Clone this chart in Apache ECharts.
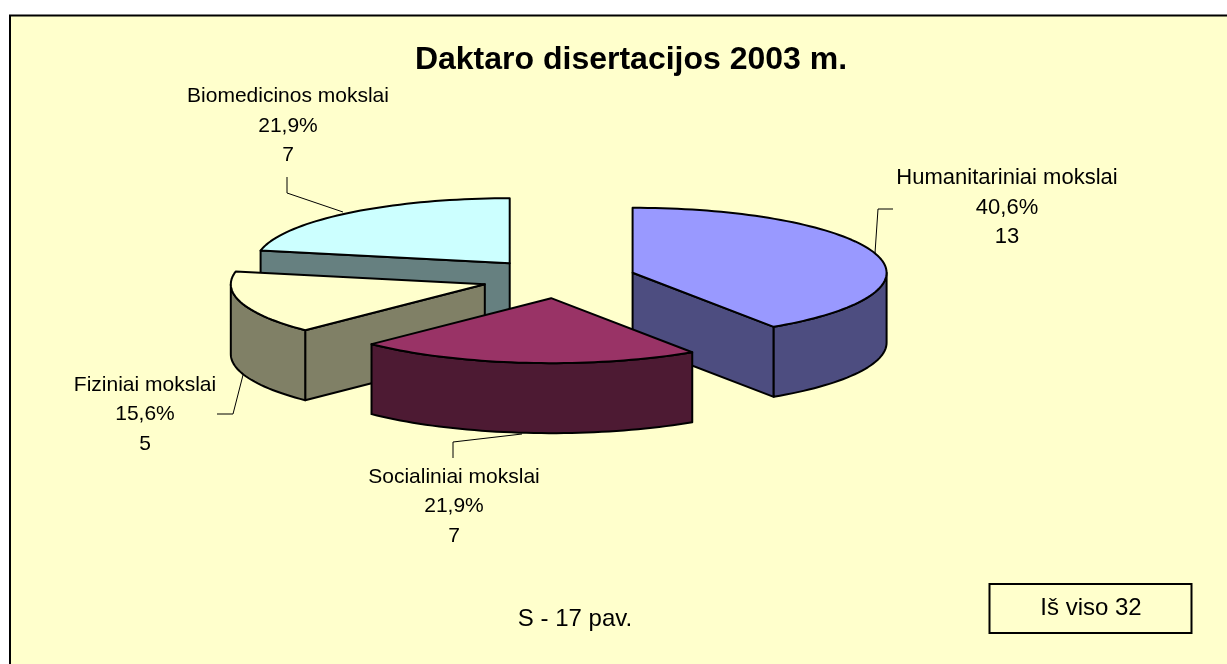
<!DOCTYPE html>
<html><head><meta charset="utf-8">
<style>html,body{margin:0;padding:0;background:#fff}#c{width:1227px;height:664px}</style>
<script src="https://cdn.jsdelivr.net/npm/echarts@6/dist/echarts.min.js"></script>
</head><body><div id="c"></div>
<script>
var categories = ['Humanitariniai mokslai','Socialiniai mokslai','Fiziniai mokslai','Biomedicinos mokslai'];
var counts = [13,7,5,7];
var percentLabels = ['40,6%','21,9%','15,6%','21,9%'];
var topColors = ['#9999FF','#993366','#FFFFCC','#CCFFFF'];
var sideColors = ['#4D4D80','#4D1A33','#808066','#668080'];
var titleText = 'Daktaro disertacijos 2003 m.';
var noteText = 'S - 17 pav.';
var totalText = 'Iš viso 32';

var FONT = '"Liberation Sans", Arial, sans-serif';
var total = counts.reduce(function(a,b){return a+b;},0);
var cx = 558.7, cy = 278.5, rx = 254, ry = 65, depth = 70, explode = 0.304;
var starts = [], acc = 0;
counts.forEach(function(v){ starts.push(acc/total*Math.PI*2); acc += v; });
// paint back-to-front
var order = [3,2,0,1];
var seriesData = order.map(function(i){ return {name:categories[i], value:[i,counts[i]]}; });

function arcPts(c,a0,a1,dy){
  var pts=[], n=Math.max(2,Math.ceil((a1-a0)/0.03));
  for(var k=0;k<=n;k++){
    var t=a0+(a1-a0)*k/n;
    pts.push([c[0]+rx*Math.sin(t), c[1]-ry*Math.cos(t)+dy]);
  }
  return pts;
}
function poly(points,fill){
  return {type:'polygon',shape:{points:points},
    style:{fill:fill,stroke:'#000',lineWidth:2,lineJoin:'round'}};
}
function cutFace(c,a,color){
  var e=[c[0]+rx*Math.sin(a), c[1]-ry*Math.cos(a)];
  return poly([c,e,[e[0],e[1]+depth],[c[0],c[1]+depth]],color);
}
function renderSlice(params,api){
  var i=api.value(0), v=api.value(1);
  var a0=starts[i], a1=a0+v/total*Math.PI*2, mid=(a0+a1)/2;
  var c=[cx+rx*explode*Math.sin(mid), cy-ry*explode*Math.cos(mid)];
  var kids=[];
  // cut faces whose normal points toward the viewer
  if(Math.sin(a0)<-1e-6) kids.push(cutFace(c,a0,sideColors[i]));
  if(Math.sin(a1)>1e-6) kids.push(cutFace(c,a1,sideColors[i]));
  // outer rim, front half only
  var r0=Math.max(a0,Math.PI/2), r1=Math.min(a1,Math.PI*1.5);
  if(r1>r0){
    var top=arcPts(c,r0,r1,0), bot=arcPts(c,r0,r1,depth).reverse();
    kids.push(poly(top.concat(bot),sideColors[i]));
  }
  // top face
  kids.push(poly([c].concat(arcPts(c,a0,a1,0)),topColors[i]));
  return {type:'group',children:kids};
}

var leaders = [
  [[875,253],[878,209],[893,209]],
  [[522,434],[453,442],[453,458]],
  [[243,375],[233,414],[217,414]],
  [[343,212],[287,193],[287,177]]
];
var labelCenters = [[1007,178],[454,477],[145,385],[288,96.5]];
var labelSizes = [22,21,21,21];
function labelGraphics(){
  var g=[];
  categories.forEach(function(name,i){
    g.push({type:'polyline',z:3,shape:{points:leaders[i]},style:{fill:null,stroke:'#000',lineWidth:1}});
    [name,percentLabels[i],String(counts[i])].forEach(function(t,k){
      g.push({type:'text',z:4,x:labelCenters[i][0],y:labelCenters[i][1]+k*29.5,
        style:{text:t,font:labelSizes[i]+'px '+FONT,fill:'#000',textAlign:'center',textVerticalAlign:'middle'}});
    });
  });
  return g;
}
var chart=echarts.init(document.getElementById('c'));
chart.setOption({
  animation:false,
  backgroundColor:'#fff',
  title:{text:titleText,left:626,top:39,textAlign:'center',
    textStyle:{fontFamily:FONT,fontSize:32,fontWeight:'bold',color:'#000'}},
  tooltip:{show:false},
  series:[{type:'custom',coordinateSystem:'none',z:2,data:seriesData,
    encode:{value:1},renderItem:renderSlice,silent:true}],
  graphic:{elements:[
    {type:'rect',z:0,shape:{x:10,y:15.5,width:1240,height:670},style:{fill:'#FFFFCC',stroke:'#000',lineWidth:2}},
    {type:'rect',z:3,shape:{x:989.5,y:584,width:202,height:49},style:{fill:'#FFFFCC',stroke:'#000',lineWidth:2}},
    {type:'text',z:4,x:1091,y:608,style:{text:totalText,font:'24px '+FONT,fill:'#000',textAlign:'center',textVerticalAlign:'middle'}},
    {type:'text',z:4,x:575,y:619,style:{text:noteText,font:'24px '+FONT,fill:'#000',textAlign:'center',textVerticalAlign:'middle'}}
  ].concat(labelGraphics())}
});
</script></body></html>
